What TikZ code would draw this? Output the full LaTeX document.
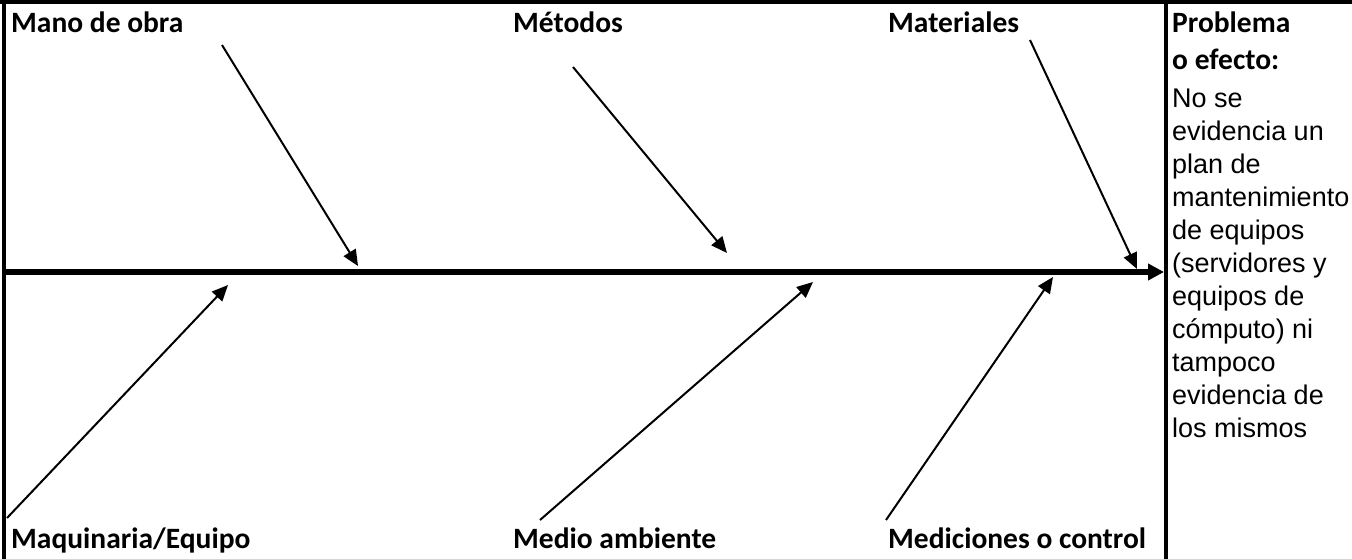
\documentclass[tikz,border=0pt]{standalone}
\usepackage{fontspec}
\setmainfont{Carlito}
\newfontfamily\arialfont{Liberation Sans}
\usetikzlibrary{arrows.meta}
\tikzset{
  lbl/.style={anchor=base west, inner sep=0pt, font=\bfseries\fontsize{29.5}{35}\selectfont},
  body/.style={anchor=base west, inner sep=0pt, align=left, font=\arialfont\fontsize{27}{33}\selectfont},
  bone/.style={line width=2pt, -{Triangle[length=16pt,width=14pt]}},
  spine/.style={line width=6pt, -{Triangle[length=16pt,width=16pt]}},
  frame/.style={line width=3.5pt}
}
\begin{document}
\begin{tikzpicture}[x=1pt,y=-1pt]
\useasboundingbox (0,0) rectangle (1352,559);
% frame
\coordinate (tl) at (0,2);
\coordinate (tr) at (1352,2);
\coordinate (lt) at (4,0);
\coordinate (lb) at (4,559);
\coordinate (dt) at (1166,0);
\coordinate (db) at (1166,559);
\draw[frame] (tl) -- (tr);
\draw[frame] (lt) -- (lb);
\draw[frame] (dt) -- (db);
% spine
\coordinate (s0) at (5,272);
\coordinate (s1) at (1164,272);
\draw[spine] (s0) -- (s1);
% labels
\node[lbl] (mano) at (11,33) {Mano de obra};
\node[lbl] (met) at (513,33) {Métodos};
\node[lbl] (mat) at (888,33) {Materiales};
\node[lbl] (maq) at (11,548) {Maquinaria/Equipo};
\node[lbl] (med) at (513,548) {Medio ambiente};
\node[lbl] (mc) at (888,548) {Mediciones o control};
\node[lbl, align=left, font=\bfseries\fontsize{29.5}{37}\selectfont] (prob) at (1172,70) {Problema\\o efecto:};
\node[body] (txt) at (1172,437) {No se\\evidencia un\\plan de\\mantenimiento\\de equipos\\(servidores y\\equipos de\\cómputo) ni\\tampoco\\evidencia de\\los mismos};
% bones
\coordinate (a1) at (222,45);   \coordinate (b1) at (358,266);
\coordinate (a2) at (573,67);   \coordinate (b2) at (727,253);
\coordinate (a3) at (1030,40);  \coordinate (b3) at (1137,269);
\coordinate (a4) at (7,518);    \coordinate (b4) at (228,285);
\coordinate (a5) at (540,520);  \coordinate (b5) at (813,282);
\coordinate (a6) at (886,520);  \coordinate (b6) at (1053,277);
\draw[bone] (a1) -- (b1);
\draw[bone] (a2) -- (b2);
\draw[bone] (a3) -- (b3);
\draw[bone] (a4) -- (b4);
\draw[bone] (a5) -- (b5);
\draw[bone] (a6) -- (b6);
\end{tikzpicture}
\end{document}
